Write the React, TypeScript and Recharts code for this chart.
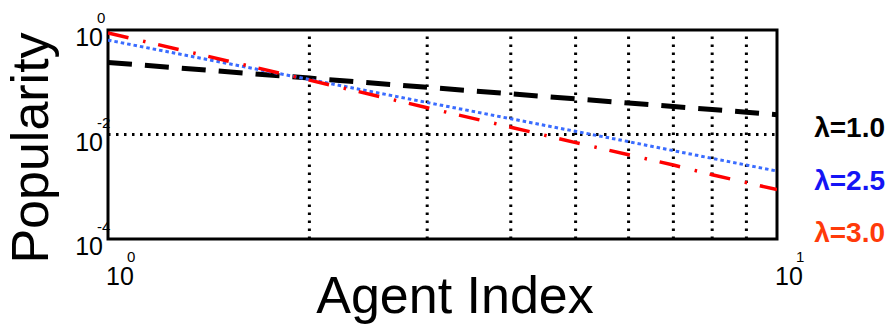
import { LineChart, Line, XAxis, YAxis, ReferenceLine, ReferenceArea } from 'recharts';

// Agent index (x) and popularity values for each lambda
const agentIndex = [1, 2, 3, 4, 5, 6, 7, 8, 9, 10];
const popLambda10 = [0.24, 0.12, 0.08, 0.06, 0.048, 0.04, 0.0343, 0.03, 0.0267, 0.024];
const popLambda25 = [0.64, 0.113, 0.041, 0.02, 0.0115, 0.0073, 0.0049, 0.0035, 0.0026, 0.002];
const popLambda30 = [0.88, 0.11, 0.0326, 0.0138, 0.007, 0.0041, 0.0026, 0.0017, 0.0012, 0.00088];

// Axis ticks and grid positions
const xTicks = [1, 10];
const yTicks = [1e-4, 1e-2, 1];
const xGrid = [2, 3, 4, 5, 6, 7, 8, 9];
const yGrid = [1e-2];

const legendItems = [
  { label: 'λ=1.0', color: '#000000' },
  { label: 'λ=2.5', color: '#1414f5' },
  { label: 'λ=3.0', color: '#ff3a0a' },
];

const FONT = '"Liberation Sans", Arial, Helvetica, sans-serif';

const chartData = agentIndex.map((x, i) => ({
  x,
  l10: popLambda10[i],
  l25: popLambda25[i],
  l30: popLambda30[i],
}));

function exponent(v: number): string {
  return String(Math.round(Math.log10(v)));
}

// x tick: "10" with exponent; y is the top of the tick area (axis line + 0)
const renderXTick = (props: any) => {
  const { x, y, payload } = props;
  return (
    <g fontFamily={FONT} fill="#000">
      <text x={x - 2} y={y + 46} fontSize={25} fill="#000">10</text>
      <text x={x + 19} y={y + 23} fontSize={15} fill="#000">{exponent(payload.value)}</text>
    </g>
  );
};

const renderYTick = (props: any) => {
  const { x, y, payload } = props;
  return (
    <g fontFamily={FONT} fill="#000">
      <text x={x - 5} y={y + 16} fontSize={25} textAnchor="end" fill="#000">10</text>
      <text x={x - 11} y={y - 7} fontSize={15} fill="#000">{exponent(payload.value)}</text>
    </g>
  );
};

export default function App() {
  return (
    <div style={{ position: 'absolute', left: 0, top: 0, width: 891, height: 325, background: '#fff' }}>
      <LineChart
        width={891}
        height={325}
        data={chartData}
        margin={{ top: 30, right: 114, bottom: 6, left: 48 }}
      >
        <XAxis
          dataKey="x"
          type="number"
          scale="log"
          domain={[1, 10]}
          ticks={xTicks}
          height={80}
          axisLine={false}
          tickLine={false}
          tickSize={0}
          tickMargin={0}
          tick={renderXTick}
          interval={0}
          allowDataOverflow
        />
        <YAxis
          type="number"
          scale="log"
          domain={[1e-4, 1]}
          ticks={yTicks}
          width={60}
          axisLine={false}
          tickLine={false}
          tickSize={0}
          tickMargin={0}
          tick={renderYTick}
          interval={0}
          allowDataOverflow
        />
        {xGrid.map((v) => (
          <ReferenceLine key={`gx-${v}`} x={v} stroke="#000" strokeWidth={3} strokeDasharray="2.5 5.5" />
        ))}
        {yGrid.map((v) => (
          <ReferenceLine key={`gy-${v}`} y={v} stroke="#000" strokeWidth={3} strokeDasharray="2.5 5.5" />
        ))}
        <ReferenceArea x1={1} x2={10} y1={1e-4} y2={1} fill="none" stroke="#000" strokeWidth={3} />
        <Line
          dataKey="l10"
          stroke="#000000"
          strokeWidth={5}
          strokeDasharray="24 13"
          dot={false}
          isAnimationActive={false}
        />
        <Line
          dataKey="l25"
          stroke="#3a6cff"
          strokeWidth={3}
          strokeDasharray="3.5 3"
          dot={false}
          isAnimationActive={false}
        />
        <Line
          dataKey="l30"
          stroke="#ff0000"
          strokeWidth={3.5}
          strokeDasharray="21 15 2.5 13"
          dot={false}
          isAnimationActive={false}
        />
      </LineChart>
      <svg
        width={891}
        height={325}
        style={{ position: 'absolute', left: 0, top: 0, pointerEvents: 'none' }}
        fontFamily={FONT}
      >
        <text x={48} y={148} fontSize={52} textAnchor="middle" transform="rotate(-90 48 148)" fill="#000">
          Popularity
        </text>
        <text x={455} y={313} fontSize={52} textAnchor="middle" fill="#000">
          Agent Index
        </text>
        {legendItems.map((item, i) => (
          <text
            key={item.label}
            x={885}
            y={137 + i * 52.5}
            fontSize={28}
            fontWeight="bold"
            textAnchor="end"
            fill={item.color}
          >
            {item.label}
          </text>
        ))}
      </svg>
    </div>
  );
}
